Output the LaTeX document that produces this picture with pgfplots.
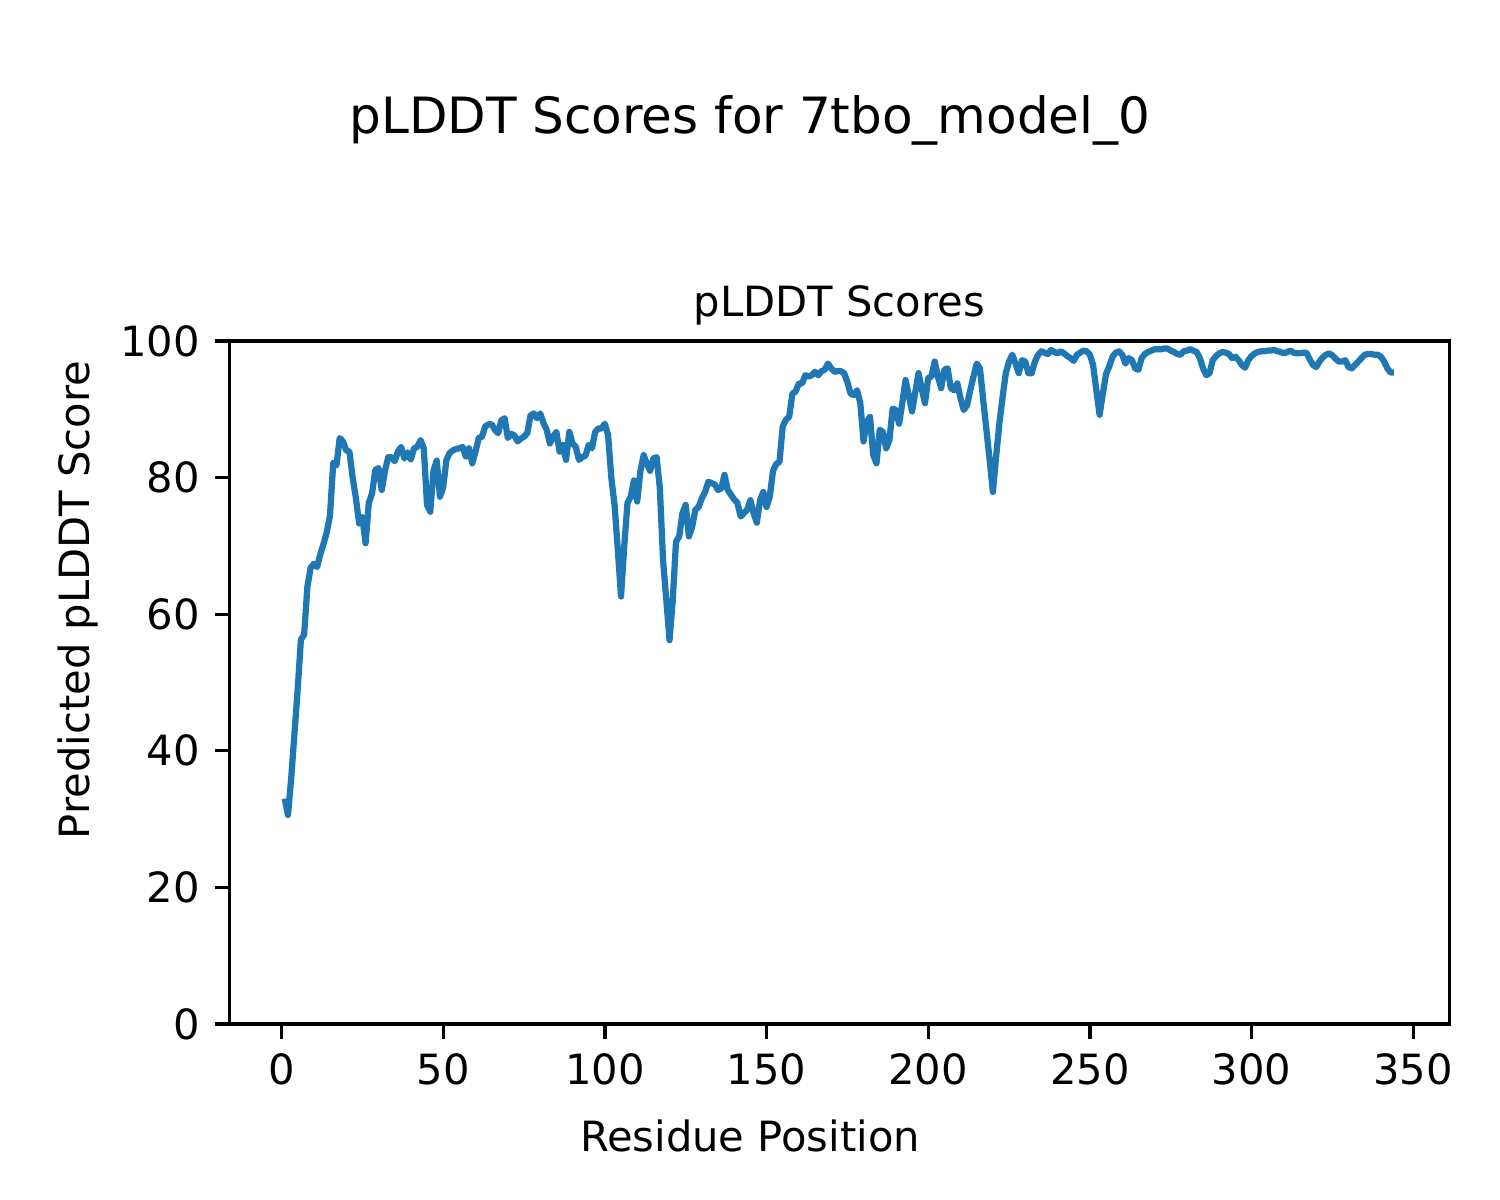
\documentclass[border=0pt]{standalone}
\usepackage{fontspec}
\setmainfont{DejaVu Sans}
\usepackage{pgfplots}
\pgfplotsset{compat=1.18}
\definecolor{mplblue}{HTML}{1F77B4}
\begin{document}
\begin{tikzpicture}
\useasboundingbox (0,0) rectangle (360pt,288pt);
\node[font=\fontsize{12}{14}\selectfont] at (180pt,259.2pt) {pLDDT Scores for 7tbo\_model\_0};
\begin{axis}[
 name=ax,
 at={(55.03pt,42.24pt)}, anchor=south west,
 width=292.8pt, height=163.9pt, scale only axis,
 xmin=-16.15, xmax=361.15, ymin=0, ymax=100,
 xtick={0,50,...,350}, ytick={0,20,...,100},
 tick align=outside, major tick length=3.5pt, tick pos=left,
 tick style={line width=0.8pt, black},
 axis line style={line width=0.8pt},
 ticklabel style={font=\fontsize{10}{12}\selectfont},
 /pgf/number format/assume math mode=true,
]
\addplot[mplblue, line width=1.5pt, line join=round] coordinates {
(1,33.0)(2,30.6)(3,36)(4,42.5)(5,49)(6,56.3)(7,57)(8,64)(9,66.8)(10,67.4)
(11,66.9)(12,68.8)(13,70.3)(14,72)(15,74.5)(16,82.2)(17,81.8)(18,85.8)(19,85.3)(20,84)
(21,83.8)(22,80)(23,77)(24,73.3)(25,74.2)(26,70.4)(27,76.3)(28,77.7)(29,81.1)(30,81.4)
(31,78.2)(32,81)(33,83)(34,83)(35,82.4)(36,83.8)(37,84.5)(38,82.8)(39,83.7)(40,82.7)
(41,84.3)(42,84.5)(43,85.5)(44,84.3)(45,76)(46,75)(47,81)(48,82.5)(49,77.2)(50,78.6)
(51,82.6)(52,83.6)(53,84)(54,84.2)(55,84.3)(56,84.5)(57,83.1)(58,84.3)(59,82.1)(60,83.8)
(61,85.8)(62,86)(63,87.5)(64,87.8)(65,87.8)(66,87)(67,86.5)(68,88.4)(69,88.7)(70,85.8)
(71,86.4)(72,86.2)(73,85.3)(74,85.7)(75,86)(76,86.5)(77,89.1)(78,89.4)(79,88.7)(80,89.4)
(81,88)(82,87)(83,85)(84,86)(85,86.7)(86,83.8)(87,84.8)(88,82.6)(89,86.7)(90,85)
(91,84.5)(92,82.6)(93,83)(94,83.2)(95,84.8)(96,84.3)(97,86.7)(98,87.2)(99,87.2)(100,87.9)
(101,86.2)(102,80)(103,76)(104,69.5)(105,62.6)(106,70)(107,76.3)(108,77.2)(109,79.6)(110,76.5)
(111,81)(112,83.3)(113,82)(114,81)(115,82.8)(116,83)(117,78.5)(118,67.9)(119,62.1)(120,56.2)
(121,62.1)(122,70.6)(123,71.4)(124,74.8)(125,76)(126,71.4)(127,72.8)(128,75.3)(129,75.7)(130,77)
(131,77.9)(132,79.4)(133,79.2)(134,79)(135,78.2)(136,78.4)(137,80.4)(138,78.2)(139,77.5)(140,76.8)
(141,76.3)(142,74.3)(143,74.8)(144,75.3)(145,76.7)(146,74.8)(147,73.4)(148,76.7)(149,77.9)(150,75.7)
(151,77.2)(152,81)(153,82)(154,82.3)(155,87.5)(156,88.5)(157,88.9)(158,92.3)(159,92.6)(160,93.8)
(161,93.8)(162,95)(163,94.8)(164,95)(165,95.5)(166,95)(167,95.6)(168,95.8)(169,96.7)(170,96)
(171,95.5)(172,95.6)(173,95.6)(174,95.3)(175,94)(176,92.3)(177,92.1)(178,92.8)(179,90.9)(180,85.3)
(181,88.2)(182,88.9)(183,83.3)(184,82.1)(185,87)(186,86.7)(187,84.3)(188,85.5)(189,90.1)(190,89.9)
(191,87.9)(192,91)(193,94.3)(194,92)(195,89.7)(196,92.5)(197,95.3)(198,93)(199,90.9)(200,94.6)
(201,94.8)(202,97)(203,94.8)(204,93.1)(205,95.8)(206,96)(207,93.1)(208,92.8)(209,93.8)(210,91.6)
(211,89.9)(212,90.6)(213,92.8)(214,94.8)(215,96.7)(216,96)(217,91.4)(218,87)(219,82.6)(220,77.9)
(221,83.1)(222,87.9)(223,91.8)(224,95.3)(225,97)(226,98)(227,96.7)(228,95.3)(229,97.2)(230,97)
(231,95.3)(232,95.3)(233,97)(234,98)(235,98.5)(236,98.3)(237,98.1)(238,98.7)(239,98.4)(240,98.2)
(241,98.5)(242,98.2)(243,97.8)(244,97.5)(245,97.1)(246,98)(247,98.3)(248,98.6)(249,98.5)(250,98)
(251,96.5)(252,92.8)(253,89.2)(254,92.3)(255,95.2)(256,96.3)(257,97.7)(258,98.3)(259,98.5)(260,98)
(261,96.7)(262,97.5)(263,97.2)(264,96)(265,95.8)(266,97.5)(267,98.1)(268,98.4)(269,98.6)(270,98.8)
(271,98.8)(272,98.8)(273,98.9)(274,98.9)(275,98.6)(276,98.4)(277,98.1)(278,98)(279,98.5)(280,98.6)
(281,98.8)(282,98.6)(283,98.4)(284,97.5)(285,96)(286,95)(287,95.3)(288,97.2)(289,97.8)(290,98.2)
(291,98.4)(292,98.3)(293,98.1)(294,97.5)(295,97.7)(296,97.2)(297,96.5)(298,96.1)(299,97.2)(300,97.8)
(301,98.2)(302,98.4)(303,98.5)(304,98.5)(305,98.6)(306,98.6)(307,98.7)(308,98.5)(309,98.4)(310,98.2)
(311,98.4)(312,98.6)(313,98.3)(314,98.2)(315,98.2)(316,98.3)(317,98.3)(318,97.3)(319,96.5)(320,96.2)
(321,97)(322,97.6)(323,98)(324,98.2)(325,97.9)(326,97.4)(327,97)(328,97)(329,97.2)(330,96.2)
(331,96)(332,96.5)(333,97)(334,97.5)(335,98)(336,98.1)(337,98.1)(338,98)(339,98)(340,97.7)
(341,97)(342,96)(343,95.4)(344,95.4)
};
\end{axis}
\node[anchor=base, yshift=6pt, font=\fontsize{10}{12}\selectfont] at (ax.north) {pLDDT Scores};
\node[anchor=base, font=\fontsize{10}{12}\selectfont] at (180pt,11.54pt) {Residue Position};
\node[anchor=center, rotate=90, font=\fontsize{10}{12}\selectfont] at (18.7pt,144pt) {Predicted pLDDT Score};
\end{tikzpicture}
\end{document}
